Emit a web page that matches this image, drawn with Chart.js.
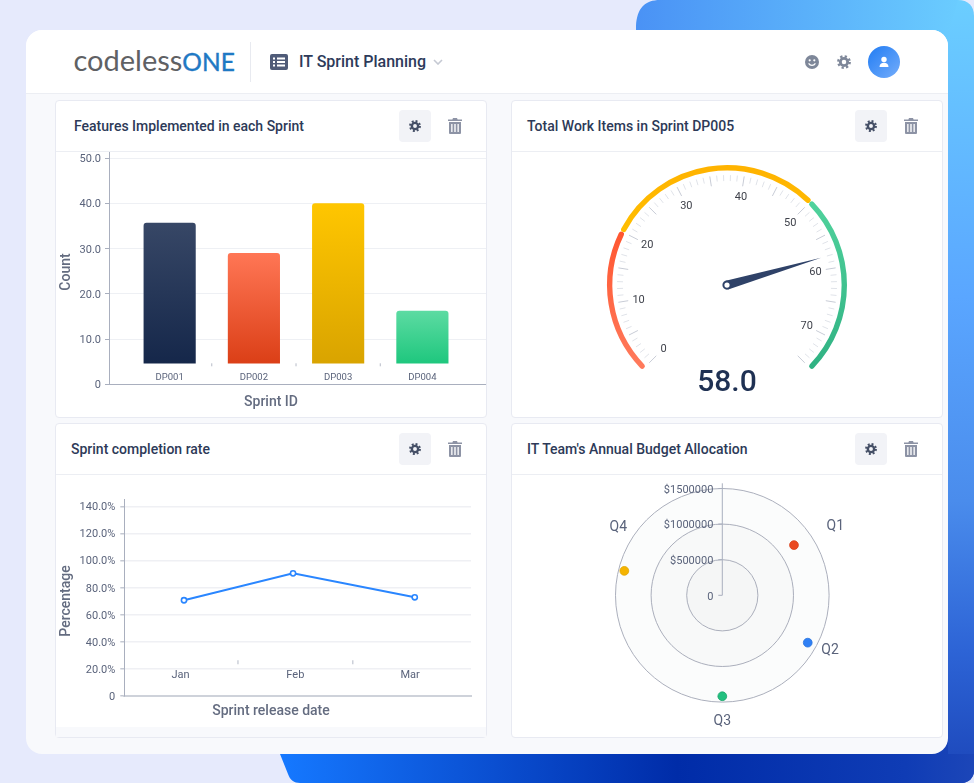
<!DOCTYPE html>
<html lang="en">
<head>
<meta charset="UTF-8">
<title>IT Sprint Planning</title>
<script src="https://cdn.jsdelivr.net/npm/chart.js"></script>
<style>
    html, body { margin: 0; padding: 0; }
    body { width: 974px; height: 783px; position: relative; overflow: hidden; background: #e6eafc; font-family: Roboto, sans-serif; }
    .abs { position: absolute; }
    #panel { left: 26px; top: 30px; width: 922px; height: 724px; background: #f8f9fc; border-radius: 16px; overflow: hidden; }
    #topbar { left: 26px; top: 30px; width: 922px; height: 63px; background: #fff; border-bottom: 1px solid #eceef3; border-radius: 16px 16px 0 0; }
    #divider { left: 250px; top: 42px; width: 1px; height: 40px; background: #e8eaf0; }
    #logo { left: 73.5px; top: 41.5px; font: 400 29px/36px Lato, sans-serif; color: #5f6164; white-space: nowrap; }
    #logo b { font-weight: 400; font-size: 24.5px; color: #1f79c4; -webkit-text-stroke: 0.4px #1f79c4; }
    #app { left: 299px; top: 52px; font: 500 16px/20px Roboto; color: #2d3a5a; white-space: nowrap; }
    .card { position: absolute; box-sizing: border-box; width: 432px; background: #fff; border: 1px solid #e8eaf2; border-radius: 4px; }
    .line { position: absolute; left: 0; right: 0; top: 50px; height: 1px; background: #eceef3; }
    .title { position: absolute; top: 15px; font: 500 14px/20px Roboto; color: #2d3a58; white-space: nowrap; }
    .btn { position: absolute; top: 9px; width: 32px; height: 32px; background: #f2f3f7; border-radius: 4px; color: #454f66; }
    .btn svg { position: absolute; left: 10px; top: 10px; width: 12px; height: 12px; }
    .bin { position: absolute; top: 17px; width: 14px; height: 16px; color: #8d93a5; }
    canvas { position: absolute; }
    .axis { position: absolute; font: 500 14px/16px Roboto; color: #646c80; white-space: nowrap; transform: translate(-50%, -50%); }
    .axis.v { transform: translate(-50%, -50%) rotate(-90deg); }
    #gaugeValue { left: 727px; top: 381px; font: 500 30px/34px Roboto; color: #1f3153; transform: translate(-50%, -50%); }
</style>
</head>
<body>
<svg width="0" height="0" style="position:absolute">
    <symbol id="gear" viewBox="0 0 16 16">
        <circle cx="8" cy="8" r="4.2" fill="none" stroke="currentColor" stroke-width="3.2"/>
        <circle cx="8" cy="8" r="6.6" fill="none" stroke="currentColor" stroke-width="2.6" stroke-dasharray="2.6 2.58"/>
    </symbol>
    <symbol id="bin" viewBox="0 0 14 16">
        <path fill="currentColor" d="M5 0h4l.6 1.5H14V3H0V1.5h4.4zM1 4h12v11a1 1 0 0 1-1 1H2a1 1 0 0 1-1-1zm2.2 2v8h1.3V6zm3.1 0v8h1.4V6zm3.2 0v8h1.3V6z"/>
    </symbol>
</svg>

<svg class="abs" style="left:0;top:0" width="974" height="783">
    <defs>
        <linearGradient id="blueRight" gradientUnits="userSpaceOnUse" x1="0" y1="0" x2="0" y2="783">
            <stop offset="0" stop-color="#6bceff"/>
            <stop offset="0.38" stop-color="#5aa6ff"/>
            <stop offset="0.64" stop-color="#4a8cec"/>
            <stop offset="0.83" stop-color="#2d64d6"/>
            <stop offset="1" stop-color="#1b45b8"/>
        </linearGradient>
        <linearGradient id="blueBottom" gradientUnits="userSpaceOnUse" x1="283" y1="0" x2="974" y2="0">
            <stop offset="0" stop-color="#1578ff"/>
            <stop offset="0.31" stop-color="#0a4ed0"/>
            <stop offset="0.57" stop-color="#002ca8"/>
            <stop offset="0.9" stop-color="#0f3cb5"/>
            <stop offset="1" stop-color="#1c46b8"/>
        </linearGradient>
        <linearGradient id="blueTop" gradientUnits="userSpaceOnUse" x1="636" y1="0" x2="974" y2="0">
            <stop offset="0" stop-color="#4a92f5"/>
            <stop offset="0.5" stop-color="#5ab0fa"/>
            <stop offset="1" stop-color="#6ccfff"/>
        </linearGradient>
    </defs>
    <path fill="url(#blueRight)" d="M900 0H958C968 0 974 6 974 16V771C974 778 968 783 962 783H900Z"/>
    <path fill="url(#blueBottom)" d="M275 730H948V754H974V771C974 778 968 783 962 783H300C294 783 290 780 288 774L280 754Z"/>
    <path fill="url(#blueTop)" d="M660 0C645 0 637 8 636 26V40H950V30L958 0Z"/>
</svg>

<div id="panel" class="abs"></div>
<div id="topbar" class="abs"></div>
<div id="divider" class="abs"></div>
<div id="logo" class="abs">codeless<b>ONE</b></div>
<svg class="abs" style="left:270px;top:54px" width="18" height="16" viewBox="0 0 18 16">
    <rect width="18" height="16" rx="2" fill="#4f5b78"/>
    <path fill="#fff" d="M3 3.5h2v2H3zM7 3.5h8v2H7zM3 7h2v2H3zM7 7h8v2H7zM3 10.500h2v2H3zM7 10.500h8v2H7z"/>
</svg>
<div id="app" class="abs">IT Sprint Planning</div>
<svg class="abs" style="left:433px;top:59px" width="10" height="6" viewBox="0 0 10 6"><path d="M1 1l4 4 4-4" fill="none" stroke="#c5c9d3" stroke-width="1.6"/></svg>
<svg class="abs" style="left:805px;top:55px" width="14" height="14" viewBox="0 0 14 14">
    <circle cx="7" cy="7" r="7" fill="#7e8799"/>
    <circle cx="4.700" cy="5.300" r="1.100" fill="#fff"/><circle cx="9.300" cy="5.300" r="1.100" fill="#fff"/>
    <path d="M3.600 8.400c1.600 2.700 5.200 2.700 6.800 0" fill="none" stroke="#fff" stroke-width="1.200"/>
</svg>
<svg class="abs" style="left:837px;top:55px;color:#7e8799" width="14" height="14"><use href="#gear"/></svg>
<svg class="abs" style="left:868px;top:46px" width="32" height="32" viewBox="0 0 32 32">
    <defs><linearGradient id="av" x1="0" y1="0" x2="1" y2="1"><stop offset="0" stop-color="#217cf3"/><stop offset="1" stop-color="#74adfb"/></linearGradient></defs>
    <circle cx="16" cy="16" r="16" fill="url(#av)"/>
    <circle cx="16" cy="13.500" r="2.700" fill="#fff"/>
    <path fill="#fff" d="M11.500 21c0-3 2-4.300 4.500-4.300s4.500 1.300 4.500 4.300z"/>
</svg>

<div class="card" style="left:55px;top:100px;height:318px">
    <div class="line"></div><div class="title" style="left:18px">Features Implemented in each Sprint</div>
    <div class="btn" style="left:343px"><svg><use href="#gear"/></svg></div><svg class="bin" style="left:392px"><use href="#bin"/></svg>
</div>
<div class="card" style="left:511px;top:100px;height:318px">
    <div class="line"></div><div class="title" style="left:15px">Total Work Items in Sprint DP005</div>
    <div class="btn" style="left:343px"><svg><use href="#gear"/></svg></div><svg class="bin" style="left:392px"><use href="#bin"/></svg>
</div>
<div class="card" style="left:55px;top:423px;height:315px">
    <div class="line"></div><div class="title" style="left:15px">Sprint completion rate</div>
    <div class="btn" style="left:343px"><svg><use href="#gear"/></svg></div><svg class="bin" style="left:392px"><use href="#bin"/></svg>
    <div style="position:absolute;left:0;right:0;bottom:0;height:10px;background:#f8f9fc"></div>
</div>
<div class="card" style="left:511px;top:423px;height:315px">
    <div class="line"></div><div class="title" style="left:15px">IT Team's Annual Budget Allocation</div>
    <div class="btn" style="left:343px"><svg><use href="#gear"/></svg></div><svg class="bin" style="left:392px"><use href="#bin"/></svg>
</div>

<canvas id="barChart" width="430" height="265" style="left:56px;top:152px"></canvas>
<canvas id="gaugeChart" width="430" height="265" style="left:512px;top:152px"></canvas>
<canvas id="lineChart" width="430" height="252" style="left:56px;top:475px"></canvas>
<canvas id="polarChart" width="430" height="262" style="left:512px;top:475px"></canvas>

<div class="axis" style="left:271px;top:401px">Sprint ID</div>
<div class="axis v" style="left:65px;top:272px">Count</div>
<div class="axis" style="left:271px;top:710px">Sprint release date</div>
<div class="axis v" style="left:65px;top:601px">Percentage</div>
<div id="gaugeValue" class="abs">58.0</div>

<script>
    // sprint features
    const sprintIds = ['DP001', 'DP002', 'DP003', 'DP004'];
    const sprintFeatures = [35.7, 29, 40, 16.2];
    const barTopColors = ['#374766', '#ff7655', '#ffc600', '#5cdba2'];
    const barBottomColors = ['#15274a', '#db3f17', '#d9a400', '#1fc77e'];

    // work items gauge
    const gaugeBands = [20, 30, 25];
    const gaugeValue = 58;

    // completion rate
    const months = ['Jan', 'Feb', 'Mar'];
    const releasePositions = [0.03, 0.98, 2.04];
    const completionRate = [70.6, 90.5, 72.8];

    // budget per quarter
    const quarters = ['Q1', 'Q2', 'Q3', 'Q4'];
    const quarterBudget = [1229000, 1372000, 1418000, 1418000];
    const quarterAngle = [55, 119, 180, 284];
    const quarterColors = ['#ea4a22', '#2f80f5', '#22c07f', '#f5b400'];
    const budgetRings = [0, 500000, 1000000, 1500000];

    Chart.defaults.animation = false;
    Chart.defaults.font.family = 'Roboto';
    Chart.defaults.font.size = 11;
    Chart.defaults.color = '#5a637b';

    const fitAxis = (size) => (scale) => {
        if (scale.isHorizontal()) scale.height = size; else scale.width = size;
        scale.paddingTop = scale.paddingBottom = scale.paddingLeft = scale.paddingRight = 0;
    };

    // little marks half way between two categories
    const betweenTicks = {
        id: 'betweenTicks',
        afterDatasetsDraw(chart, args, opts) {
            const { ctx, scales } = chart;
            const base = scales.y.bottom;
            ctx.save();
            ctx.strokeStyle = opts.color;
            ctx.lineWidth = opts.width;
            for (let i = 0; i < opts.count - 1; i++) {
                const x = scales.x.getPixelForValue(i + 0.5);
                ctx.beginPath();
                ctx.moveTo(x, base - opts.from);
                ctx.lineTo(x, base - opts.to);
                ctx.stroke();
            }
            ctx.restore();
        }
    };

    new Chart(document.getElementById('barChart'), {
        type: 'bar',
        plugins: [betweenTicks],
        data: {
            datasets: [{
                data: sprintFeatures.map((v, i) => ({ x: i, y: v })),
                base: 4.7,
                barThickness: 51.5,
                borderRadius: { topLeft: 3, topRight: 3 },
                borderSkipped: 'bottom',
                backgroundColor(c) {
                    const y = c.chart.scales.y;
                    const from = y.getPixelForValue(sprintFeatures[c.dataIndex]);
                    if (!isFinite(from)) return barTopColors[c.dataIndex || 0];
                    const g = c.chart.ctx.createLinearGradient(0, from, 0, y.getPixelForValue(4.7));
                    g.addColorStop(0, barTopColors[c.dataIndex]);
                    g.addColorStop(1, barBottomColors[c.dataIndex]);
                    return g;
                }
            }]
        },
        options: {
            responsive: false,
            layout: { padding: 0, autoPadding: false },
            plugins: {
                legend: { display: false }, tooltip: { enabled: false },
                betweenTicks: { count: sprintIds.length, color: '#b6bbc7', width: 1, from: 18, to: 21 }
            },
            scales: {
                x: {
                    type: 'linear', offset: false, min: -0.72, max: 3.755,
                    afterBuildTicks(s) { s.ticks = sprintIds.map((_, i) => ({ value: i })); },
                    afterFit: fitAxis(32.7),
                    grid: { display: false },
                    border: { color: '#a9afbe' },
                    ticks: { autoSkip: false, maxRotation: 0, mirror: true, padding: 0.6, font: { size: 9.5 }, callback: (v) => sprintIds[v] }
                },
                y: {
                    min: 0, max: 51.4,
                    afterFit: fitAxis(53),
                    grid: { color: '#eef0f4', tickColor: '#a9afbe', tickLength: 4 },
                    border: { color: '#a9afbe' },
                    ticks: { stepSize: 10, includeBounds: false, padding: 4, labelOffset: 1.2, callback: (v) => (v === 0 ? '0' : v.toFixed(1)) }
                }
            }
        }
    });

    // needle, ticks and numbers on top of the doughnut arcs
    const gaugeDial = {
        id: 'gaugeDial',
        afterDatasetsDraw(chart) {
            const { ctx } = chart;
            const arcs = chart.getDatasetMeta(0).data;
            const cx = arcs[0].x, cy = arcs[0].y;
            const total = gaugeBands.reduce((a, b) => a + b, 0);
            const start = arcs[0].startAngle, end = arcs[arcs.length - 1].endAngle;
            const angleOf = (v) => start + (end - start) * v / total;
            ctx.save();
            for (let v = 0; v <= total; v++) {
                const a = angleOf(v);
                const major = v % 5 === 0;
                ctx.strokeStyle = major ? '#c8ccd6' : '#e0e3e9';
                ctx.lineWidth = 1;
                ctx.beginPath();
                ctx.moveTo(cx + Math.cos(a) * (major ? 100 : 104), cy + Math.sin(a) * (major ? 100 : 104));
                ctx.lineTo(cx + Math.cos(a) * 110, cy + Math.sin(a) * 110);
                ctx.stroke();
                if (v % 10 === 0) {
                    ctx.fillStyle = '#3f424b';
                    ctx.font = '11px Roboto';
                    ctx.textAlign = 'center';
                    ctx.textBaseline = 'middle';
                    ctx.fillText(String(v), cx + Math.cos(a) * 89.5, cy + Math.sin(a) * 89.5 + 1);
                }
            }
            const a = angleOf(gaugeValue);
            ctx.fillStyle = '#2f4268';
            ctx.beginPath();
            ctx.moveTo(cx + Math.cos(a) * 98, cy + Math.sin(a) * 98);
            ctx.lineTo(cx + Math.cos(a + Math.PI / 2) * 4.5, cy + Math.sin(a + Math.PI / 2) * 4.5);
            ctx.lineTo(cx + Math.cos(a - Math.PI / 2) * 4.5, cy + Math.sin(a - Math.PI / 2) * 4.5);
            ctx.closePath();
            ctx.fill();
            ctx.beginPath();
            ctx.arc(cx, cy, 3.6, 0, Math.PI * 2);
            ctx.fillStyle = '#fff';
            ctx.strokeStyle = '#2f4268';
            ctx.lineWidth = 2;
            ctx.fill();
            ctx.stroke();
            ctx.restore();
        }
    };

    const gaugeCtx = document.getElementById('gaugeChart').getContext('2d');
    const redArc = gaugeCtx.createLinearGradient(0, 80, 0, 215);
    redArc.addColorStop(0, '#ff5630');
    redArc.addColorStop(1, '#ff7a5c');
    const yellowArc = gaugeCtx.createLinearGradient(0, 15, 0, 80);
    yellowArc.addColorStop(0, '#ffb300');
    yellowArc.addColorStop(1, '#ffbe00');
    const greenArc = gaugeCtx.createLinearGradient(0, 50, 0, 215);
    greenArc.addColorStop(0, '#50d29c');
    greenArc.addColorStop(1, '#30b283');

    new Chart(gaugeCtx, {
        type: 'doughnut',
        plugins: [gaugeDial],
        data: { datasets: [{ data: gaugeBands, backgroundColor: [redArc, yellowArc, greenArc], borderWidth: 0, borderRadius: 3 }] },
        options: {
            responsive: false,
            rotation: -135,
            circumference: 270,
            radius: 120,
            cutout: '95.5%',
            layout: { padding: { bottom: 34 }, autoPadding: false },
            plugins: { legend: { display: false }, tooltip: { enabled: false } }
        }
    });

    new Chart(document.getElementById('lineChart'), {
        type: 'line',
        plugins: [betweenTicks],
        data: {
            datasets: [{
                data: completionRate.map((v, i) => ({ x: releasePositions[i], y: v })),
                borderColor: '#2a86ff',
                borderWidth: 2,
                tension: 0,
                pointRadius: 2.6,
                pointBorderWidth: 1.6,
                pointBackgroundColor: '#fff',
                pointBorderColor: '#2a86ff'
            }]
        },
        options: {
            responsive: false,
            layout: { padding: { top: 24.7, right: 15 }, autoPadding: false },
            plugins: {
                legend: { display: false }, tooltip: { enabled: false },
                betweenTicks: { count: months.length, color: '#ccd0d9', width: 1.5, from: 31.5, to: 35.5 }
            },
            scales: {
                x: {
                    type: 'linear', offset: false, min: -0.49, max: 2.53,
                    afterBuildTicks(s) { s.ticks = months.map((_, i) => ({ value: i })); },
                    afterFit: fitAxis(31.3),
                    grid: { display: false },
                    border: { color: '#ced2da', width: 2 },
                    ticks: { autoSkip: false, maxRotation: 0, mirror: true, padding: 13.8, callback: (v) => months[v] }
                },
                y: {
                    min: 0, max: 145,
                    afterFit: fitAxis(68.3),
                    grid: { color: '#eff0f4', lineWidth: 1.5, tickColor: '#c5c9d3', tickLength: 4 },
                    border: { color: '#a9afbe' },
                    ticks: { stepSize: 20, includeBounds: false, padding: 5, labelOffset: 1.2, callback: (v) => (v === 0 ? '0' : v.toFixed(1) + '%') }
                }
            }
        }
    });

    // rings, spoke and quarter names of the polar plot
    const polarFrame = {
        id: 'polarFrame',
        beforeDraw(chart) {
            const { ctx, scales: { x, y } } = chart;
            const cx = x.getPixelForValue(0), cy = y.getPixelForValue(0);
            const fills = ['#f5f6f6', '#f8f9f9', '#fbfcfc'];
            ctx.save();
            for (let i = budgetRings.length - 1; i > 0; i--) {
                ctx.beginPath();
                ctx.arc(cx, cy, cy - y.getPixelForValue(budgetRings[i]), 0, Math.PI * 2);
                ctx.fillStyle = fills[i - 1];
                ctx.strokeStyle = '#abafbc';
                ctx.lineWidth = 1;
                ctx.fill();
                ctx.stroke();
            }
            ctx.strokeStyle = '#a9afbe';
            ctx.beginPath();
            ctx.moveTo(cx, cy);
            ctx.lineTo(cx, y.getPixelForValue(1573000));
            ctx.stroke();
            budgetRings.forEach((v) => {
                const py = y.getPixelForValue(v);
                ctx.beginPath();
                ctx.moveTo(cx - 4, py);
                ctx.lineTo(cx, py);
                ctx.stroke();
            });
            ctx.restore();
        },
        afterDraw(chart) {
            const { ctx, scales: { x, y } } = chart;
            const nameRadius = [1864000, 1692000, 1756000, 1750000];
            const nameAngle = [58.4, 116.6, 180, 303.4];
            ctx.save();
            ctx.font = '14px Roboto';
            ctx.fillStyle = '#5a637b';
            ctx.textAlign = 'center';
            ctx.textBaseline = 'middle';
            quarters.forEach((q, i) => {
                const a = nameAngle[i] * Math.PI / 180;
                ctx.fillText(q, x.getPixelForValue(Math.sin(a) * nameRadius[i]), y.getPixelForValue(Math.cos(a) * nameRadius[i]) + 1);
            });
            ctx.restore();
        }
    };

    new Chart(document.getElementById('polarChart'), {
        type: 'scatter',
        plugins: [polarFrame],
        data: {
            datasets: [{
                data: quarterBudget.map((v, i) => ({
                    x: v * Math.sin(quarterAngle[i] * Math.PI / 180),
                    y: v * Math.cos(quarterAngle[i] * Math.PI / 180)
                })),
                pointRadius: 4.4,
                pointBorderWidth: 0.8,
                pointBackgroundColor: quarterColors,
                pointBorderColor: ['#d9421d', '#2a73de', '#1aa56c', '#e0a500']
            }]
        },
        options: {
            responsive: false,
            layout: { padding: 0, autoPadding: false },
            plugins: { legend: { display: false }, tooltip: { enabled: false } },
            scales: {
                x: { display: false, min: -2953650, max: 3085700 },
                y: {
                    position: { x: -126000 },
                    min: -1990170, max: 1689600,
                    afterBuildTicks(s) { s.ticks = budgetRings.map((v) => ({ value: v })); },
                    afterFit: fitAxis(0),
                    grid: { display: false },
                    border: { display: false },
                    ticks: { autoSkip: false, labelOffset: 1.5, callback: (v) => (v === 0 ? '0' : '$' + v) }
                }
            }
        }
    });
</script>
</body>
</html>
